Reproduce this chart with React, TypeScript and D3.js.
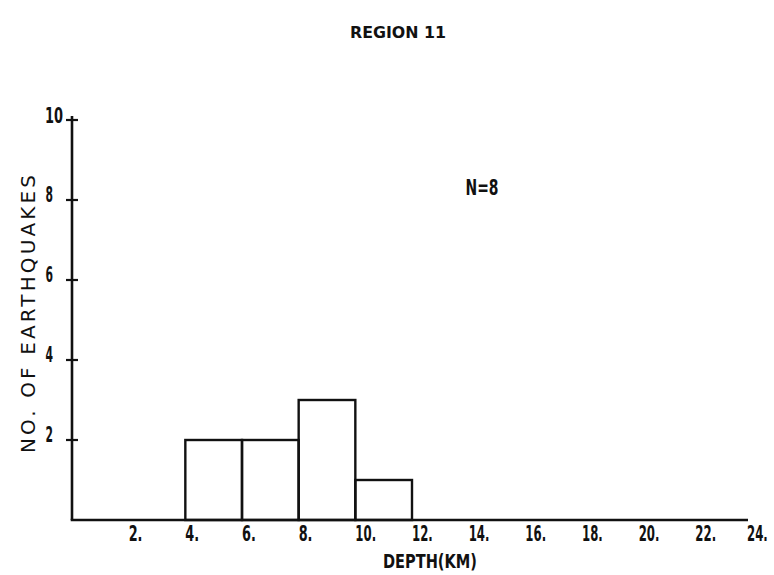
import React from "react";
import * as d3 from "d3";

const binEdges = [4, 6, 8, 10, 12];
const counts = [2, 2, 3, 1];
const xTicks = [2, 4, 6, 8, 10, 12, 14, 16, 18, 20, 22, 24];
const yTicks = [2, 4, 6, 8, 10];
const title = "REGION 11";
const nLabel = "N=8";
const xTitle = "DEPTH(KM)";
const yTitle = "NO. OF EARTHQUAKES";

const W = 774;
const H = 575;
const FONT = "'DejaVu Sans Condensed', 'Liberation Sans Narrow', 'DejaVu Sans', sans-serif";

export default function App() {
  const x = d3.scaleLinear().domain([0, 24]).range([72, 752]);
  const y = d3.scaleLinear().domain([0, 10]).range([520, 120]);
  const bins = counts.map((c, i) => ({ x0: binEdges[i], x1: binEdges[i + 1], c }));
  const lbl = { fontFamily: FONT, fontWeight: 700, fill: "#111", lengthAdjust: "spacingAndGlyphs" } as const;
  const tickFont = { fontFamily: FONT, fontWeight: 700, fill: "#111" } as const;
  return (
    <svg width={W} height={H} style={{ position: "absolute", left: 0, top: 0, background: "#fff" }}>
      <text x={398} y={38} textAnchor="middle" fontSize={16} textLength={96} {...lbl}>
        {title}
      </text>
      {/* bars */}
      {bins.map((b, i) => (
        <rect
          key={i}
          x={x(b.x0)}
          y={y(b.c)}
          width={x(b.x1) - x(b.x0)}
          height={y(0) - y(b.c)}
          fill="none"
          stroke="#111"
          strokeWidth={2.4}
        />
      ))}
      {/* axes */}
      <line x1={x(0)} x2={x(0)} y1={y(10) - 4} y2={y(0)} stroke="#111" strokeWidth={2.6} />
      <line x1={x(0) - 1.3} x2={748} y1={y(0)} y2={y(0)} stroke="#111" strokeWidth={2.6} />
      {yTicks.map((t) => (
        <g key={t}>
          <line x1={x(0) - 6} x2={x(0) + 6} y1={y(t)} y2={y(t)} stroke="#111" strokeWidth={2.2} />
          <text
            x={t === 10 ? 63 : 53}
            y={t === 10 ? y(t) + 3 : y(t) + 2}
            textAnchor="end"
            fontSize={21}
            textLength={t === 10 ? 18 : 7.5}
            {...lbl}
          >
            {t}
          </text>
        </g>
      ))}
      {xTicks.map((t) => {
        const px = Math.min(x(t), 747);
        return (
          <text key={t} x={0} y={y(0) + 21} textAnchor="start" fontSize={21}
            transform={`translate(${px},0) scale(${t < 10 ? 0.68 : 0.62},1)`} {...tickFont}>
            {t + "."}
          </text>
        );
      })}
      <text x={482} y={195} textAnchor="middle" fontSize={22} textLength={33} {...lbl}>
        {nLabel}
      </text>
      <text x={430} y={568} textAnchor="middle" fontSize={19} textLength={94} {...lbl}>
        {xTitle}
      </text>
      <text
        transform="translate(35,314) rotate(-90)"
        textAnchor="middle"
        fontSize={20}
        fontFamily="'DejaVu Sans', sans-serif"
        fontWeight={400}
        fill="#111"
        textLength={278}
        lengthAdjust="spacing"
      >
        {yTitle}
      </text>
    </svg>
  );
}
